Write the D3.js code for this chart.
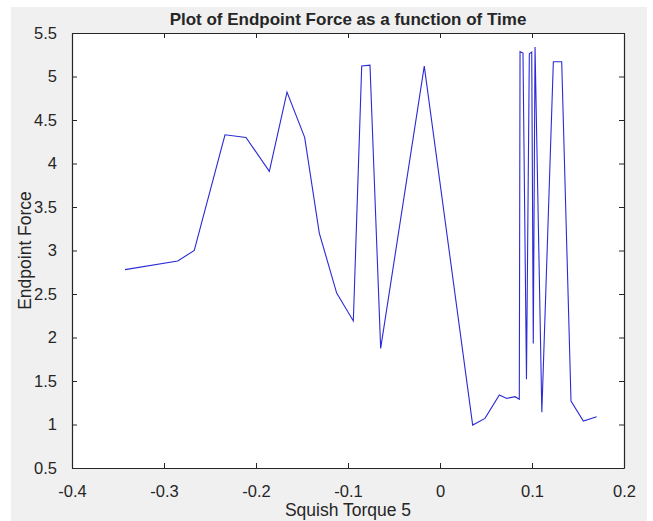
<!DOCTYPE html>
<html>
<head>
<meta charset="utf-8">
<script src="https://cdn.jsdelivr.net/npm/d3@7"></script>
<style>
  html, body { margin: 0; padding: 0; background: #ffffff; }
  svg { display: block; }
  text { font-family: "Liberation Sans", Arial, sans-serif; fill: #262626; }
</style>
</head>
<body>
<svg id="chart" width="653" height="521"></svg>
<script>
// ---- data ----
const torque = [-0.3424, -0.2851, -0.2671, -0.2337, -0.2109, -0.1855, -0.1663, -0.1471,
  -0.1312, -0.1123, -0.0942, -0.0851, -0.0761, -0.0645, -0.0171, 0.0355, 0.0489, 0.0645,
  0.0725, 0.0815, 0.0862, 0.0870, 0.0902, 0.0940, 0.0971, 0.0997, 0.1014, 0.1033,
  0.1107, 0.1232, 0.1323, 0.1424, 0.1558, 0.1703];
const force = [2.78, 2.88, 3.00, 4.33, 4.30, 3.91, 4.82, 4.30,
  3.20, 2.51, 2.19, 5.12, 5.13, 1.875, 5.12, 0.994, 1.07, 1.34,
  1.30, 1.32, 1.29, 5.285, 5.27, 1.52, 5.26, 5.28, 1.93, 5.34,
  1.14, 5.17, 5.17, 1.27, 1.04, 1.09];
const xTicks = [-0.4, -0.3, -0.2, -0.1, 0, 0.1, 0.2];
const yTicks = [0.5, 1, 1.5, 2, 2.5, 3, 3.5, 4, 4.5, 5, 5.5];
const titleText = "Plot of Endpoint Force as a function of Time";
const xLabelText = "Squish Torque 5";
const yLabelText = "Endpoint Force";

// ---- layout ----
const svg = d3.select("#chart");
const L = 72, R = 624, T = 33, B = 468;
const axisColor = "#262626";

svg.append("rect").attr("x", 11).attr("y", 7).attr("width", 636).attr("height", 514)
  .attr("fill", "#f0f0f0");
svg.append("rect").attr("x", L).attr("y", T).attr("width", R - L).attr("height", B - T)
  .attr("fill", "#ffffff");

const x = d3.scaleLinear().domain([-0.4, 0.2]).range([L, R]);
const y = d3.scaleLinear().domain([0.5, 5.5]).range([B, T]);

const fmt = d => (Math.abs(d) < 1e-9 ? "0" : String(+d.toFixed(2)));

// bottom axis (inward ticks)
const gx = svg.append("g").attr("transform", `translate(0,${B})`)
  .call(d3.axisBottom(x).tickValues(xTicks).tickFormat(fmt).tickSizeInner(-5).tickSizeOuter(0).tickPadding(17));
// top axis (ticks only)
const gxt = svg.append("g").attr("transform", `translate(0,${T})`)
  .call(d3.axisTop(x).tickValues(xTicks).tickFormat("").tickSizeInner(-5).tickSizeOuter(0));
// left axis
const gy = svg.append("g").attr("transform", `translate(${L},0)`)
  .call(d3.axisLeft(y).tickValues(yTicks).tickFormat(fmt).tickSizeInner(-5).tickSizeOuter(0).tickPadding(15));
// right axis
const gyr = svg.append("g").attr("transform", `translate(${R},0)`)
  .call(d3.axisRight(y).tickValues(yTicks).tickFormat("").tickSizeInner(-5).tickSizeOuter(0));

[gx, gxt, gy, gyr].forEach(g => {
  g.select(".domain").attr("stroke", axisColor).attr("stroke-width", 1.2);
  g.selectAll(".tick line").attr("stroke", axisColor);
  g.selectAll(".tick text").attr("fill", axisColor)
    .style("font-family", '"Liberation Sans", Arial, sans-serif').style("font-size", "16.5px");
});

// line
const line = d3.line().x((d, i) => x(torque[i])).y(d => y(d));
svg.append("path").datum(force)
  .attr("d", line)
  .attr("fill", "none")
  .attr("stroke", "#2a2ad6")
  .attr("stroke-width", 1.1)
  .attr("stroke-linejoin", "miter");

// title and labels
svg.append("text").attr("x", (L + R) / 2).attr("y", 25)
  .attr("text-anchor", "middle").style("font-weight", "bold").style("font-size", "17px")
  .text(titleText);
svg.append("text").attr("x", (L + R) / 2).attr("y", 516)
  .attr("text-anchor", "middle").style("font-size", "17.5px")
  .text(xLabelText);
svg.append("text").attr("transform", `translate(31,${(T + B) / 2}) rotate(-90)`)
  .attr("text-anchor", "middle").style("font-size", "17.5px")
  .text(yLabelText);
</script>
</body>
</html>
